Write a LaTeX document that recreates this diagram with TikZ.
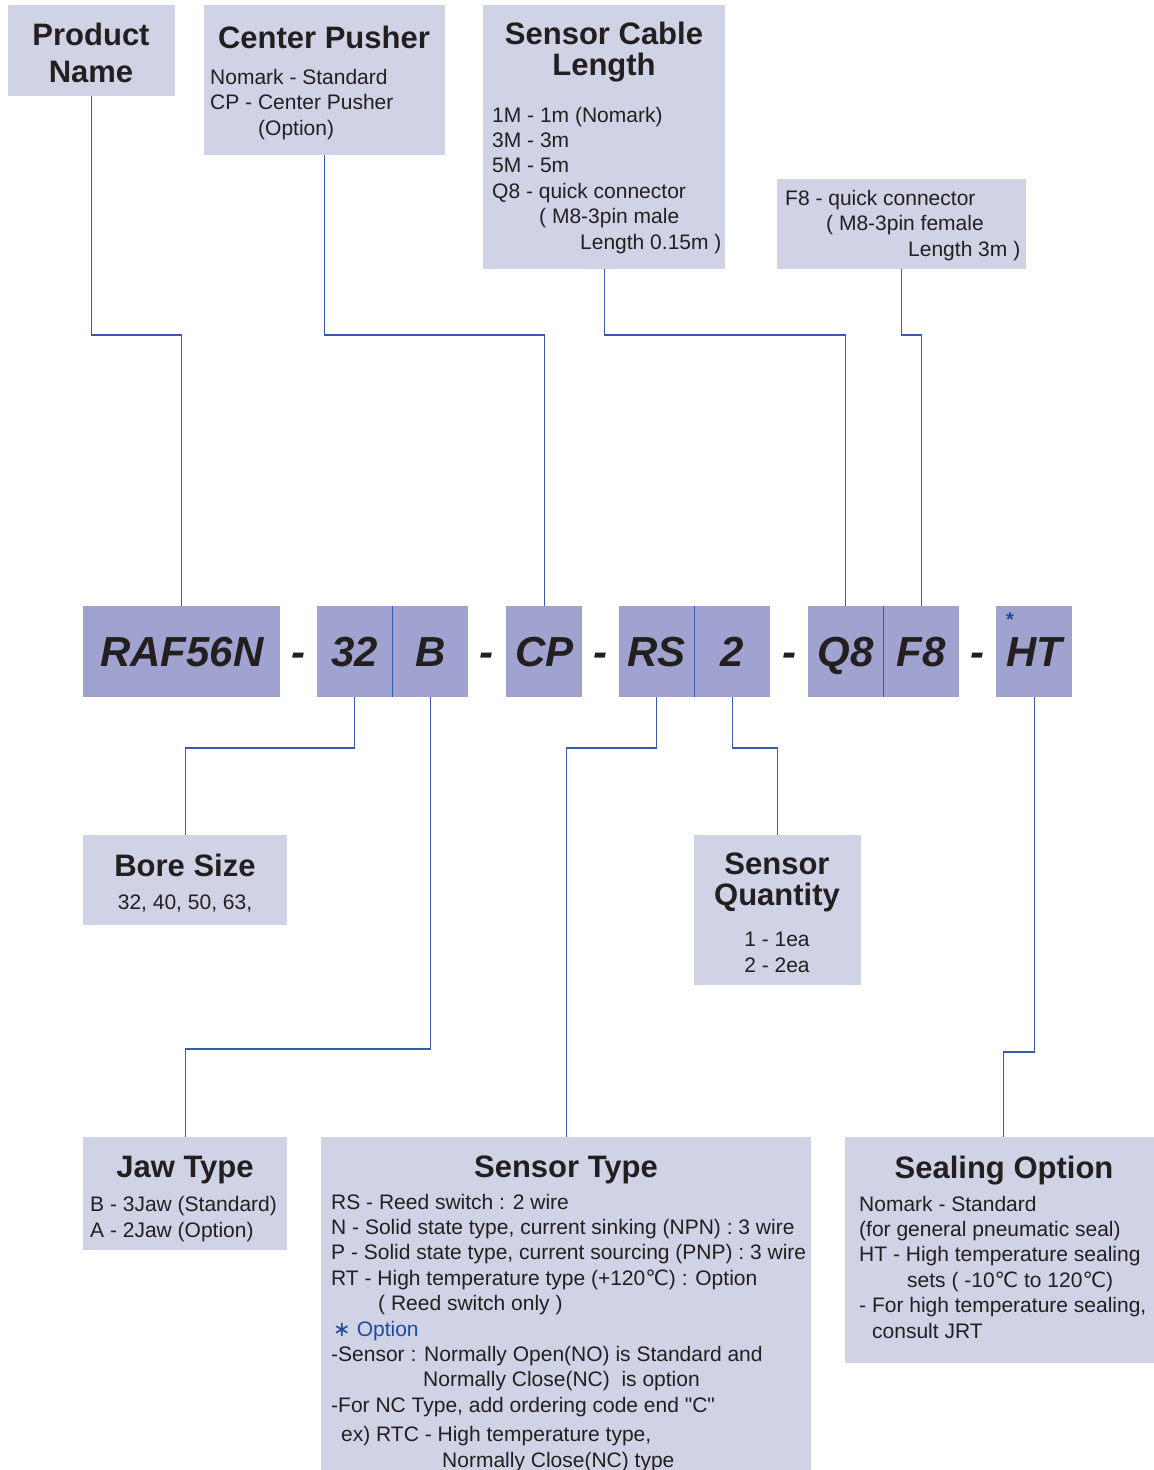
\documentclass[tikz,border=0pt]{standalone}
\usepackage{fontspec}
\setmainfont{Liberation Sans}
\newfontfamily\symfont{DejaVu Sans}
\usetikzlibrary{calc}
\definecolor{boxlight}{RGB}{208,210,230}
\definecolor{boxdark}{RGB}{160,163,207}
\definecolor{linkblue}{RGB}{55,90,170}
\definecolor{inkdark}{RGB}{35,31,32}
\definecolor{optblue}{RGB}{30,75,160}
\newcommand{\codefont}{\fontsize{42}{42}\selectfont\bfseries\itshape}
\newcommand{\degc}{{\symfont ℃}}
\tikzset{
 keybox/.style={fill=boxlight, inner sep=0pt, anchor=north west},
 codebox/.style={fill=boxdark, inner sep=0pt, anchor=north west, minimum height=91pt, text height=30pt, text depth=0pt, font=\codefont, text=inkdark},
 link/.style={draw=linkblue, line width=1.2pt},
 head/.style={font=\fontsize{31}{31}\selectfont\bfseries, align=center, anchor=base, inner sep=0pt, text=inkdark},
 body/.style={font=\fontsize{21}{25.4}\selectfont, align=left, anchor=base west, inner sep=0pt, text=inkdark},
 sep/.style={font=\codefont, anchor=base, inner sep=0pt, text=inkdark}
}
\begin{document}
\begin{tikzpicture}[x=1pt, y=-1pt]
 \useasboundingbox (0,0) rectangle (1154,1470);
%
 \node[keybox, minimum width=167pt, minimum height=91pt] (pname) at (8,5) {};
 \node[keybox, minimum width=241pt, minimum height=150pt] (cpush) at (204,5) {};
 \node[keybox, minimum width=242pt, minimum height=264pt] (cable) at (483,5) {};
 \node[keybox, minimum width=249pt, minimum height=90pt] (fconn) at (777,179) {};
 \node[keybox, minimum width=204pt, minimum height=90pt] (bore) at (83,835) {};
 \node[keybox, minimum width=167pt, minimum height=150pt] (qty) at (694,835) {};
 \node[keybox, minimum width=204pt, minimum height=113pt] (jaw) at (83,1137) {};
 \node[keybox, minimum width=490pt, minimum height=333pt] (stype) at (321,1137) {};
 \node[keybox, minimum width=309pt, minimum height=226pt] (seal) at (845,1137) {};
%
 \node[codebox, minimum width=197pt] (raf) at (83,606) {RAF56N};
 \node[codebox, minimum width=75pt] (b32) at (317,606) {32};
 \node[codebox, minimum width=76pt] (bjaw) at (392,606) {B};
 \node[codebox, minimum width=76pt] (cp) at (506,606) {CP};
 \node[codebox, minimum width=75pt] (rs) at (619,606) {RS};
 \node[codebox, minimum width=76pt] (squant) at (694,606) {2};
 \node[codebox, minimum width=75pt] (q8) at (808,606) {Q8};
 \node[codebox, minimum width=76pt] (f8) at (883,606) {F8};
 \node[codebox, minimum width=76pt] (ht) at (996,606) {HT};
 \node[font=\fontsize{20}{20}\selectfont\bfseries, text=optblue, inner sep=0pt] (htstar) at (1010,620) {*};
%
 \node[sep] (sep1) at (298,666) {-};
 \node[sep] (sep2) at (486,666) {-};
 \node[sep] (sep3) at (600,666) {-};
 \node[sep] (sep4) at (789,666) {-};
 \node[sep] (sep5) at (977,666) {-};
%
 \draw[link] (b32.north east) -- (b32.south east);
 \draw[link] (rs.north east) -- (rs.south east);
 \draw[link] (q8.north east) -- (q8.south east);
%
 \draw[link] (pname.south) -- (pname.south |- 0,335) -| (raf.north);
 \draw[link] (cpush.south) -- (cpush.south |- 0,335) -| (cp.north);
 \draw[link] (cable.south) -- (cable.south |- 0,335) -| (q8.north);
 \draw[link] (fconn.south) -- (fconn.south |- 0,335) -| (f8.north);
 \draw[link] (b32.south) -- (b32.south |- 0,748) -| (bore.north);
 \draw[link] (bjaw.south) -- (bjaw.south |- 0,1049) -| (jaw.north);
 \draw[link] (rs.south) -- (rs.south |- 0,748) -| (stype.north);
 \draw[link] (squant.south) -- (squant.south |- 0,748) -| (qty.north);
 \draw[link] (ht.south) -- (ht.south |- 0,1052) -| ($(seal.north)+(4,0)$);
%
 % multi-line texts sit on the baseline of their last line
 \node[head] (pnameT) at (91,82) {Product\\[6pt]Name};
 \node[head] (cpushT) at (324,48) {Center Pusher};
 \node[body] (cpushB) at (210,135) {Nomark - Standard\\CP - Center Pusher\\\hspace*{48pt}(Option)};
 \node[head] (cableT) at (604,75) {Sensor Cable\\Length};
 \node[body] (cableB) at (492,249) {1M - 1m (Nomark)\\3M - 3m\\5M - 5m\\Q8 - quick connector\\\hspace*{47pt}( M8-3pin male\\\hspace*{88pt}Length 0.15m )};
 \node[body] (fconnB) at (785,256) {F8 - quick connector\\\hspace*{41pt}( M8-3pin female\\\hspace*{123pt}Length 3m )};
 \node[head] (boreT) at (185,876) {Bore Size};
 \node[body, anchor=base] (boreB) at (185,909) {32, 40, 50, 63,};
 \node[head] (qtyT) at (777,905) {Sensor\\Quantity};
 \node[body, anchor=base, align=center] (qtyB) at (777,972) {1 - 1ea\\2 - 2ea};
 \node[head] (jawT) at (185,1177) {Jaw Type};
 \node[body] (jawB) at (90,1237) {B - 3Jaw (Standard)\\A - 2Jaw (Option)};
 \node[head] (stypeT) at (566,1177) {Sensor Type};
 \node[body] (stypeB) at (331,1467) {RS - Reed switch : 2 wire\\
  N - Solid state type, current sinking (NPN) : 3 wire\\
  P - Solid state type, current sourcing (PNP) : 3 wire\\
  RT - High temperature type (+120\degc) : Option\\
  \hspace*{47pt}( Reed switch only )\\
  \hspace*{2pt}{\color{optblue}{\symfont ∗}\hspace*{6pt}Option}\\
  -Sensor : Normally Open(NO) is Standard and\\
  \hspace*{92pt}Normally Close(NC)\ \ is option\\
  -For NC Type, add ordering code end \textquotedbl C\textquotedbl\\[4pt]
  \hspace*{10pt}ex) RTC - High temperature type,\\
  \hspace*{111pt}Normally Close(NC) type};
 \node[head] (sealT) at (1004,1178) {Sealing Option};
 \node[body] (sealB) at (859,1338) {Nomark - Standard\\
  (for general pneumatic seal)\\
  HT - High temperature sealing\\
  \hspace*{48pt}sets ( -10\degc{} to 120\degc)\\
  - For high temperature sealing,\\
  \hspace*{13pt}consult JRT};
\end{tikzpicture}
\end{document}
